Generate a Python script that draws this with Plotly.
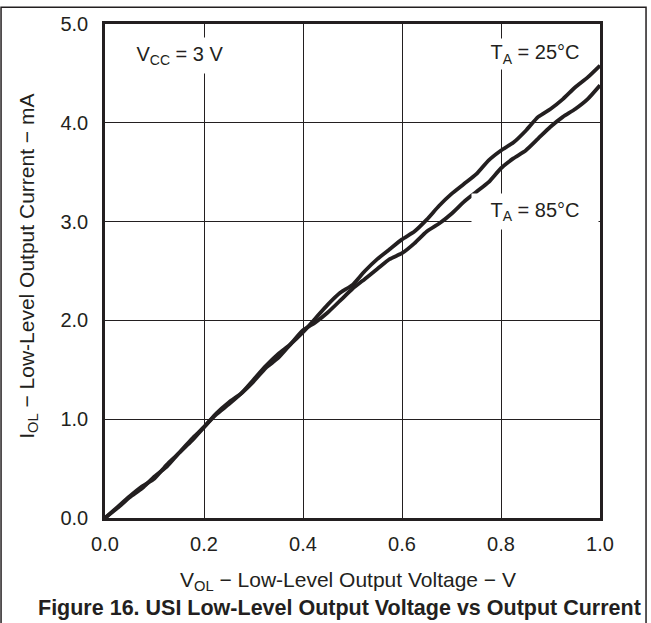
import plotly.graph_objects as go

# V_OL (V)
v_ol = [0, 0.025, 0.05, 0.075, 0.1, 0.125, 0.15, 0.175, 0.2, 0.225, 0.25, 0.275,
        0.3, 0.325, 0.35, 0.375, 0.4, 0.425, 0.45, 0.475, 0.5, 0.525, 0.55, 0.575,
        0.6, 0.625, 0.65, 0.675, 0.7, 0.725, 0.75, 0.775, 0.8, 0.825, 0.85, 0.875,
        0.9, 0.925, 0.95, 0.975, 1.0]

# I_OL (mA) a 25°C
i_ol_25 = [0, 0.10, 0.21, 0.30, 0.42, 0.52, 0.66, 0.78, 0.92, 1.05, 1.15, 1.26,
           1.40, 1.54, 1.66, 1.76, 1.88, 2.02, 2.16, 2.28, 2.36, 2.50, 2.62, 2.72,
           2.82, 2.90, 3.02, 3.16, 3.28, 3.38, 3.48, 3.62, 3.72, 3.80, 3.92, 4.06,
           4.14, 4.24, 4.36, 4.46, 4.58]

# I_OL (mA) a 85°C
i_ol_85 = [0, 0.11, 0.22, 0.32, 0.40, 0.54, 0.66, 0.80, 0.92, 1.06, 1.17, 1.26,
           1.38, 1.52, 1.62, 1.76, 1.90, 1.98, 2.08, 2.20, 2.32, 2.42, 2.52, 2.62,
           2.68, 2.78, 2.90, 2.98, 3.08, 3.20, 3.30, 3.40, 3.54, 3.64, 3.72, 3.84,
           3.96, 4.06, 4.14, 4.24, 4.38]

x_ticks = [0.0, 0.2, 0.4, 0.6, 0.8, 1.0]
y_ticks = [0.0, 1.0, 2.0, 3.0, 4.0, 5.0]

FONT = "Liberation Sans, Arial, sans-serif"
INK = "#231f20"

fig = go.Figure()

for y, name in [(i_ol_25, "TA = 25°C"), (i_ol_85, "TA = 85°C")]:
    fig.add_trace(go.Scatter(
        x=v_ol, y=y, mode="lines", name=name,
        line=dict(color=INK, width=3.8, shape="spline", smoothing=0.6),
        showlegend=False
    ))

axis_common = dict(
    showline=True, linewidth=2.5, linecolor=INK, mirror=True,
    showgrid=True, gridcolor=INK, gridwidth=1,
    zeroline=False, ticks="", tickfont=dict(size=20, color=INK, family=FONT),
    tickformat=".1f"
)

fig.update_layout(
    width=651, height=623,
    margin=dict(l=105, r=51, t=24, b=105),
    paper_bgcolor="white", plot_bgcolor="white",
    font=dict(family=FONT, color=INK),
    xaxis=dict(range=[0, 1.0], tickvals=x_ticks, ticklabelstandoff=6, **axis_common),
    yaxis=dict(range=[0, 5.0], tickvals=y_ticks, ticklabelstandoff=10, **axis_common),
)

# Rótulos dentro do gráfico (caixa branca corta a grade)
labels = [
    (0.152, 0.937, "V<sub>CC</sub> = 3 V", 108, 31),
    (0.869, 0.94, "T<sub>A</sub> = 25°C", 100, 26),
    (0.869, 0.62, "T<sub>A</sub> = 85°C", 122, 31),
]
for x, y, t, w, h in labels:
    fig.add_annotation(
        x=x, y=y, xref="paper", yref="paper", text=t, showarrow=False,
        xanchor="center", yanchor="middle",
        font=dict(size=20, color=INK, family=FONT), bgcolor="white",
        width=w, height=h, borderpad=2
    )

# Títulos dos eixos e da figura
fig.add_annotation(
    x=0.49, y=-0.127, xref="paper", yref="paper", showarrow=False,
    xanchor="center", yanchor="middle",
    text="V<sub>OL</sub> − Low-Level Output Voltage − V",
    font=dict(size=21, color=INK, family=FONT)
)
fig.add_annotation(
    x=-0.156, y=0.51, xref="paper", yref="paper", showarrow=False, textangle=-90,
    xanchor="center", yanchor="middle",
    text="I<sub>OL</sub> − Low-Level Output Current − mA",
    font=dict(size=21, color=INK, family=FONT)
)
fig.add_annotation(
    x=1.087, y=-0.182, xref="paper", yref="paper", showarrow=False,
    xanchor="right", yanchor="middle",
    text="<b>Figure 16. USI Low-Level Output Voltage vs Output Current</b>",
    font=dict(size=21.5, color=INK, family=FONT)
)

# Moldura externa
fig.add_shape(
    type="rect", xref="paper", yref="paper",
    x0=-0.21, x1=1.093, y0=-0.3, y1=1.034,
    line=dict(color=INK, width=1.5)
)

fig.write_html("out.html", config={"displayModeBar": False},
               post_script="document.body.style.margin='0';")
